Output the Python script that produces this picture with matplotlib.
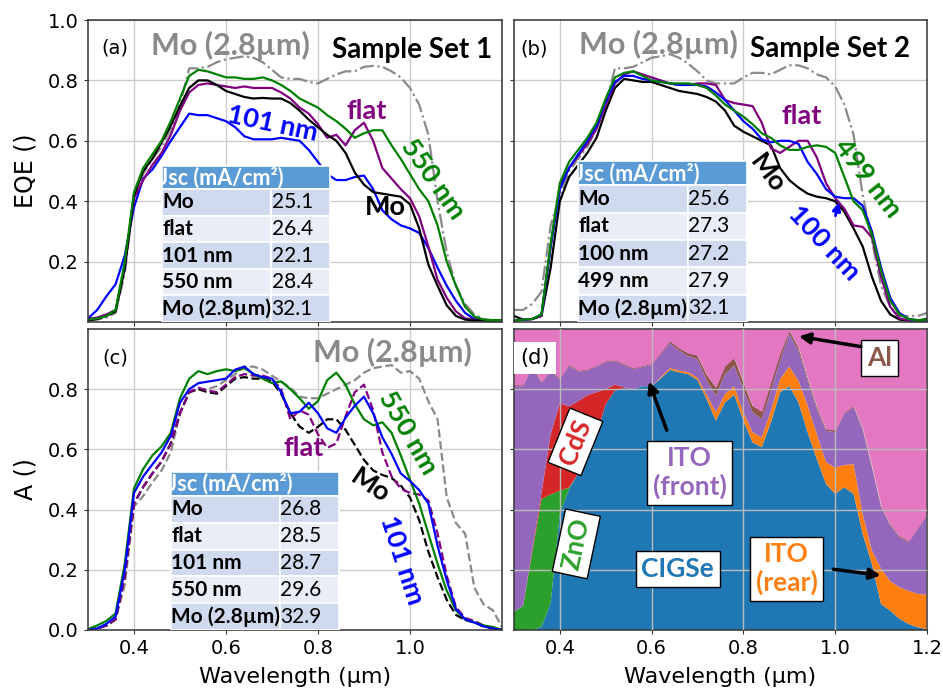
import numpy as np
import matplotlib
matplotlib.use("Agg")
import matplotlib.pyplot as plt
from matplotlib.patches import Rectangle

# ---------------- data ----------------
wl = [0.30, 0.32, 0.34, 0.36, 0.38, 0.40, 0.42, 0.44, 0.46, 0.48, 0.50, 0.52, 0.54, 0.56,
      0.58, 0.60, 0.62, 0.64, 0.66, 0.68, 0.70, 0.72, 0.74, 0.76, 0.78, 0.80, 0.82, 0.84,
      0.86, 0.88, 0.90, 0.92, 0.94, 0.96, 0.98, 1.00, 1.02, 1.04, 1.06, 1.08, 1.10, 1.12,
      1.14, 1.16, 1.18, 1.20]

# Panel (a): EQE, sample set 1
eqe1_mo = [0.005, 0.01, 0.02, 0.035, 0.18, 0.42, 0.50, 0.54, 0.595, 0.65, 0.715, 0.775, 0.80, 0.80,
           0.785, 0.765, 0.755, 0.745, 0.74, 0.742, 0.74, 0.74, 0.725, 0.70, 0.67, 0.645, 0.62, 0.60,
           0.56, 0.495, 0.455, 0.43, 0.425, 0.42, 0.415, 0.39, 0.31, 0.19, 0.12, 0.055, 0.02, 0.008,
           0.005, 0.005, 0.006, 0.006]
eqe1_flat = [0.01, 0.015, 0.025, 0.04, 0.18, 0.41, 0.47, 0.52, 0.56, 0.62, 0.70, 0.76, 0.785, 0.79,
             0.785, 0.78, 0.775, 0.78, 0.775, 0.775, 0.775, 0.76, 0.74, 0.71, 0.69, 0.655, 0.61, 0.62,
             0.585, 0.635, 0.66, 0.60, 0.51, 0.475, 0.44, 0.41, 0.35, 0.25, 0.14, 0.08, 0.035, 0.012,
             0.008, 0.006, 0.006, 0.006]
eqe1_101 = [0.012, 0.04, 0.085, 0.125, 0.22, 0.38, 0.475, 0.505, 0.55, 0.60, 0.645, 0.69, 0.685, 0.685,
            0.675, 0.665, 0.645, 0.615, 0.605, 0.605, 0.605, 0.61, 0.605, 0.60, 0.57, 0.53, 0.49, 0.47,
            0.47, 0.48, 0.485, 0.44, 0.37, 0.34, 0.32, 0.31, 0.295, 0.245, 0.18, 0.12, 0.07, 0.03,
            0.01, 0.006, 0.005, 0.005]
eqe1_550 = [0.008, 0.012, 0.02, 0.04, 0.20, 0.43, 0.51, 0.555, 0.60, 0.665, 0.74, 0.815, 0.835, 0.83,
            0.82, 0.81, 0.81, 0.805, 0.805, 0.81, 0.80, 0.785, 0.765, 0.74, 0.725, 0.71, 0.685, 0.665,
            0.64, 0.61, 0.625, 0.635, 0.635, 0.585, 0.54, 0.49, 0.44, 0.40, 0.32, 0.20, 0.12, 0.05,
            0.018, 0.008, 0.006, 0.006]
eqe1_thick = [0.005, 0.008, 0.015, 0.03, 0.16, 0.42, 0.49, 0.54, 0.58, 0.64, 0.72, 0.84, 0.84, 0.845,
              0.86, 0.87, 0.875, 0.88, 0.875, 0.86, 0.835, 0.81, 0.805, 0.805, 0.795, 0.79, 0.805, 0.82,
              0.83, 0.83, 0.845, 0.848, 0.845, 0.83, 0.81, 0.775, 0.72, 0.62, 0.40, 0.23, 0.12, 0.06,
              0.025, 0.01, 0.005, 0.005]

# Panel (b): EQE, sample set 2
eqe2_mo = [0.02, 0.008, 0.01, 0.02, 0.18, 0.40, 0.48, 0.52, 0.56, 0.61, 0.70, 0.775, 0.805, 0.80,
           0.795, 0.795, 0.785, 0.775, 0.765, 0.76, 0.755, 0.745, 0.73, 0.70, 0.65, 0.63, 0.615, 0.60,
           0.585, 0.51, 0.47, 0.445, 0.425, 0.415, 0.41, 0.40, 0.365, 0.31, 0.25, 0.15, 0.07, 0.025,
           0.008, 0.005, 0.005, 0.01]
eqe2_flat = [0.005, 0.008, 0.01, 0.02, 0.25, 0.45, 0.51, 0.55, 0.59, 0.64, 0.72, 0.79, 0.82, 0.83,
             0.82, 0.81, 0.80, 0.79, 0.785, 0.785, 0.79, 0.79, 0.785, 0.735, 0.725, 0.72, 0.715, 0.66,
             0.575, 0.56, 0.58, 0.60, 0.60, 0.545, 0.46, 0.41, 0.375, 0.32, 0.315, 0.28, 0.15, 0.05,
             0.012, 0.006, 0.005, 0.005]
eqe2_100 = [0.005, 0.008, 0.01, 0.025, 0.25, 0.44, 0.51, 0.555, 0.60, 0.65, 0.73, 0.795, 0.815, 0.815,
            0.805, 0.80, 0.795, 0.79, 0.785, 0.785, 0.785, 0.78, 0.76, 0.735, 0.70, 0.665, 0.64, 0.605,
            0.595, 0.60, 0.60, 0.59, 0.53, 0.49, 0.44, 0.415, 0.41, 0.41, 0.385, 0.30, 0.18, 0.08,
            0.03, 0.01, 0.006, 0.006]
eqe2_499 = [0.005, 0.008, 0.01, 0.025, 0.26, 0.46, 0.53, 0.57, 0.61, 0.66, 0.74, 0.81, 0.825, 0.83,
            0.815, 0.80, 0.795, 0.79, 0.79, 0.79, 0.785, 0.775, 0.75, 0.72, 0.70, 0.68, 0.655, 0.625,
            0.61, 0.585, 0.57, 0.57, 0.58, 0.585, 0.58, 0.56, 0.48, 0.40, 0.37, 0.29, 0.17, 0.07,
            0.025, 0.01, 0.006, 0.008]
eqe2_thick = [0.04, 0.04, 0.06, 0.10, 0.32, 0.42, 0.50, 0.54, 0.58, 0.64, 0.72, 0.84, 0.84, 0.845,
              0.86, 0.875, 0.88, 0.887, 0.875, 0.855, 0.83, 0.80, 0.79, 0.79, 0.79, 0.81, 0.825, 0.825,
              0.82, 0.835, 0.85, 0.85, 0.84, 0.82, 0.81, 0.78, 0.72, 0.62, 0.42, 0.27, 0.12, 0.05,
              0.02, 0.02, 0.02, 0.03]

# Panel (c): simulated absorption, sample set 1
abs_mo = [0.0, 0.005, 0.015, 0.035, 0.18, 0.42, 0.475, 0.52, 0.56, 0.62, 0.72, 0.79, 0.80, 0.79,
          0.785, 0.81, 0.835, 0.84, 0.835, 0.835, 0.826, 0.785, 0.72, 0.676, 0.655, 0.675, 0.70, 0.70,
          0.665, 0.615, 0.565, 0.53, 0.515, 0.505, 0.48, 0.44, 0.365, 0.26, 0.175, 0.10, 0.05, 0.033,
          0.025, 0.012, 0.005, 0.0]
abs_flat = [0.0, 0.005, 0.015, 0.035, 0.18, 0.42, 0.475, 0.52, 0.56, 0.62, 0.72, 0.79, 0.805, 0.795,
            0.79, 0.815, 0.84, 0.85, 0.845, 0.845, 0.835, 0.80, 0.70, 0.73, 0.715, 0.65, 0.605, 0.62,
            0.71, 0.79, 0.815, 0.73, 0.59, 0.51, 0.47, 0.455, 0.45, 0.43, 0.32, 0.18, 0.075, 0.04,
            0.03, 0.015, 0.005, 0.0]
abs_101 = [0.0, 0.005, 0.02, 0.045, 0.20, 0.455, 0.51, 0.55, 0.59, 0.645, 0.755, 0.80, 0.82, 0.825,
           0.83, 0.835, 0.865, 0.875, 0.85, 0.84, 0.835, 0.79, 0.72, 0.725, 0.755, 0.72, 0.67, 0.655,
           0.705, 0.745, 0.775, 0.72, 0.64, 0.585, 0.52, 0.495, 0.465, 0.42, 0.28, 0.165, 0.07, 0.035,
           0.025, 0.012, 0.005, 0.0]
abs_550 = [0.003, 0.015, 0.03, 0.055, 0.22, 0.47, 0.535, 0.58, 0.61, 0.655, 0.77, 0.835, 0.86, 0.85,
           0.86, 0.866, 0.86, 0.87, 0.85, 0.835, 0.82, 0.826, 0.80, 0.77, 0.735, 0.76, 0.83, 0.855,
           0.815, 0.75, 0.70, 0.68, 0.69, 0.655, 0.58, 0.50, 0.42, 0.32, 0.22, 0.13, 0.065, 0.035,
           0.025, 0.015, 0.01, 0.0]
abs_thick = [0.0, 0.005, 0.015, 0.035, 0.15, 0.41, 0.445, 0.49, 0.53, 0.59, 0.72, 0.79, 0.80, 0.80,
             0.81, 0.83, 0.85, 0.875, 0.875, 0.865, 0.845, 0.825, 0.805, 0.775, 0.77, 0.77, 0.785, 0.80,
             0.815, 0.83, 0.855, 0.87, 0.875, 0.88, 0.855, 0.86, 0.835, 0.76, 0.70, 0.44, 0.355, 0.32,
             0.14, 0.085, 0.066, 0.01]

# Panel (d): per-layer absorption (stacked), reflection fills the rest
lay_cigse = [0.0, 0.0, 0.0, 0.01, 0.09, 0.385, 0.468, 0.52, 0.58, 0.65, 0.75, 0.795, 0.804, 0.80,
             0.81, 0.81, 0.836, 0.864, 0.856, 0.85, 0.83, 0.767, 0.695, 0.756, 0.782, 0.695, 0.623, 0.607,
             0.69, 0.79, 0.81, 0.756, 0.657, 0.568, 0.485, 0.452, 0.474, 0.452, 0.319, 0.22, 0.086, 0.064,
             0.037, 0.02, 0.009, 0.003]
lay_ito_rear = [0.0, 0.0, 0.0, 0.0, 0.0, 0.0, 0.0, 0.0, 0.0, 0.0, 0.0, 0.0, 0.0, 0.0,
                0.0, 0.0, 0.004, 0.006, 0.006, 0.006, 0.008, 0.015, 0.028, 0.028, 0.028, 0.028, 0.034, 0.033,
                0.039, 0.044, 0.065, 0.072, 0.088, 0.083, 0.072, 0.088, 0.074, 0.099, 0.066, 0.044, 0.117, 0.098,
                0.105, 0.11, 0.111, 0.114]
lay_zno = [0.06, 0.08, 0.26, 0.425, 0.36, 0.078, 0.005, 0.0, 0.0, 0.0, 0.0, 0.0, 0.0, 0.0,
           0.0, 0.0, 0.0, 0.0, 0.0, 0.0, 0.0, 0.0, 0.0, 0.0, 0.0, 0.0, 0.0, 0.0,
           0.0, 0.0, 0.0, 0.0, 0.0, 0.0, 0.0, 0.0, 0.0, 0.0, 0.0, 0.0, 0.0, 0.0,
           0.0, 0.0, 0.0, 0.0]
lay_cds = [0.0, 0.0, 0.01, 0.02, 0.20, 0.29, 0.27, 0.24, 0.20, 0.14, 0.05, 0.02, 0.002, 0.0,
           0.0, 0.0, 0.0, 0.0, 0.0, 0.0, 0.0, 0.0, 0.0, 0.0, 0.0, 0.0, 0.0, 0.0,
           0.0, 0.0, 0.0, 0.0, 0.0, 0.0, 0.0, 0.0, 0.0, 0.0, 0.0, 0.0, 0.0, 0.0,
           0.0, 0.0, 0.0, 0.0]
lay_ito_front = [0.75, 0.73, 0.605, 0.365, 0.21, 0.079, 0.135, 0.098, 0.082, 0.085, 0.09, 0.078, 0.074, 0.066,
                 0.064, 0.07, 0.077, 0.082, 0.066, 0.054, 0.062, 0.048, 0.055, 0.066, 0.068, 0.077, 0.066, 0.06,
                 0.066, 0.061, 0.108, 0.10, 0.083, 0.083, 0.105, 0.117, 0.17, 0.189, 0.279, 0.276, 0.205, 0.185,
                 0.166, 0.161, 0.216, 0.263]
lay_al = [0.004, 0.004, 0.004, 0.004, 0.004, 0.004, 0.004, 0.004, 0.004, 0.004, 0.004, 0.004, 0.004, 0.004,
          0.004, 0.004, 0.006, 0.008, 0.008, 0.01, 0.012, 0.018, 0.028, 0.028, 0.026, 0.023, 0.022, 0.026,
          0.028, 0.025, 0.012, 0.011, 0.009, 0.008, 0.006, 0.007, 0.005, 0.005, 0.005, 0.004, 0.004, 0.004,
          0.004, 0.004, 0.004, 0.004]

jsc_names1 = ["Mo", "flat", "101 nm", "550 nm", "Mo (2.8\u00b5m)"]
jsc_eqe1 = ["25.1", "26.4", "22.1", "28.4", "32.1"]
jsc_names2 = ["Mo", "flat", "100 nm", "499 nm", "Mo (2.8\u00b5m)"]
jsc_eqe2 = ["25.6", "27.3", "27.2", "27.9", "32.1"]
jsc_abs1 = ["26.8", "28.5", "28.7", "29.6", "32.9"]

# ---------------- style ----------------
plt.rcParams['font.family'] = ['DejaVu Sans']
ANN = ['Lato', 'DejaVu Sans']
C_BLUE, C_GREEN, C_PURPLE, C_GRAY = '#0000ff', '#008000', '#800080', '#8a8a8a'

fig = plt.figure(figsize=(9.43, 6.9), dpi=100)
axA = fig.add_axes([0.0933, 0.5333, 0.439, 0.4377])
axB = fig.add_axes([0.545, 0.5333, 0.438, 0.4377])
axC = fig.add_axes([0.0933, 0.087, 0.439, 0.4362])
axD = fig.add_axes([0.545, 0.087, 0.438, 0.4362])

for ax in (axA, axB, axC, axD):
    ax.set_xlim(0.3, 1.2)
    ax.set_ylim(0, 1.0)
    ax.grid(True, color='#cccccc', lw=1.0)
    ax.set_axisbelow(True)
    for s in ax.spines.values():
        s.set_color('#333333')
        s.set_linewidth(1.1)
    ax.tick_params(labelsize=14, length=3, color='#333333')

axA.set_xticks([0.4, 0.6, 0.8, 1.0]); axA.set_xticklabels([])
axA.set_yticks([0.2, 0.4, 0.6, 0.8, 1.0])
axB.set_xticks([0.4, 0.6, 0.8, 1.0]); axB.set_xticklabels([])
axB.set_yticks([0.2, 0.4, 0.6, 0.8]); axB.set_yticklabels([])
axC.set_xticks([0.4, 0.6, 0.8, 1.0])
axC.set_yticks([0.0, 0.2, 0.4, 0.6, 0.8])
axD.set_xticks([0.4, 0.6, 0.8, 1.0, 1.2])
axD.set_yticks([0.2, 0.4, 0.6, 0.8]); axD.set_yticklabels([])

axA.set_ylabel('EQE ()', fontsize=17)
axC.set_ylabel('A ()', fontsize=17)
for ax in (axA, axC):
    ax.yaxis.set_label_coords(-0.152, 0.5)
    ax.yaxis.label.set_va('center')
for ax in (axC, axD):
    ax.set_xlabel('Wavelength (\u00b5m)', fontsize=16)
    ax.xaxis.set_label_coords(0.5, -0.155)
    ax.xaxis.label.set_va('center')

LW = 1.6
# ---- (a) ----
axA.plot(wl, eqe1_thick, color=C_GRAY, lw=LW, ls='-.')
axA.plot(wl, eqe1_101, color=C_BLUE, lw=LW)
axA.plot(wl, eqe1_flat, color=C_PURPLE, lw=LW)
axA.plot(wl, eqe1_mo, color='black', lw=LW)
axA.plot(wl, eqe1_550, color=C_GREEN, lw=LW)

# ---- (b) ----
axB.plot(wl, eqe2_thick, color=C_GRAY, lw=LW, ls='-.')
axB.plot(wl, eqe2_mo, color='black', lw=LW)
axB.plot(wl, eqe2_flat, color=C_PURPLE, lw=LW)
axB.plot(wl, eqe2_100, color=C_BLUE, lw=LW)
axB.plot(wl, eqe2_499, color=C_GREEN, lw=LW)

# ---- (c) ----
axC.plot(wl, abs_thick, color=C_GRAY, lw=LW, ls='--')
axC.plot(wl, abs_mo, color='black', lw=LW, ls='--')
axC.plot(wl, abs_flat, color=C_PURPLE, lw=LW, ls='--')
axC.plot(wl, abs_550, color=C_GREEN, lw=LW)
axC.plot(wl, abs_101, color=C_BLUE, lw=LW)

# ---- (d) ----
layers = [lay_cigse, lay_ito_rear, lay_zno, lay_cds, lay_ito_front, lay_al]
lcolors = ['tab:blue', 'tab:orange', 'tab:green', 'tab:red', 'tab:purple', 'tab:brown']
axD.stackplot(wl, *layers, colors=lcolors, zorder=0.5)
top = np.sum(np.array(layers), axis=0)
axD.fill_between(wl, top, 1.0, color='tab:pink', lw=0, zorder=0.5)
axD.grid(True, color='#bbbbbb', lw=1.0, zorder=0.8)
axD.set_axisbelow(False)
for ln in axD.get_xgridlines() + axD.get_ygridlines():
    ln.set_zorder(0.8)


def jsc_table(ax, x0, xs, x1, y1, yh, names, vals, fs=15, hfs=15.5):
    nrows = len(names)
    rh = yh / nrows
    ax.add_patch(Rectangle((x0, yh), x1 - x0, y1 - yh, facecolor='#5b9bd5',
                           edgecolor='white', lw=1.2, zorder=5))
    t = ax.text(x0 - 0.006, (yh + y1) / 2, 'Jsc (mA/cm\u00b2)', color='white', fontsize=hfs,
                fontweight='bold', family=ANN, ha='left', va='center', zorder=6)
    clip = Rectangle((x0, yh), x1 - x0, y1 - yh, transform=ax.transData)
    t.set_clip_path(clip)
    for i, (n, v) in enumerate(zip(names, vals)):
        yb = yh - (i + 1) * rh
        fc = '#cfdaee' if i % 2 == 0 else '#e9eef6'
        ax.add_patch(Rectangle((x0, yb), xs - x0, rh, facecolor=fc, edgecolor='white', lw=1.2, zorder=5))
        ax.add_patch(Rectangle((xs, yb), x1 - xs, rh, facecolor=fc, edgecolor='white', lw=1.2, zorder=5))
        ax.text(x0 + 0.001, yb + rh / 2, n, fontsize=fs, fontweight='bold', family=ANN,
                ha='left', va='center', zorder=6)
        ax.text(xs + 0.001, yb + rh / 2, v, fontsize=fs, family=ANN,
                ha='left', va='center', zorder=6)


jsc_table(axA, 0.461, 0.698, 0.826, 0.517, 0.44, jsc_names1, jsc_eqe1)
jsc_table(axB, 0.439, 0.679, 0.807, 0.533, 0.453, jsc_names2, jsc_eqe2)
jsc_table(axC, 0.480, 0.717, 0.846, 0.525, 0.445, jsc_names1, jsc_abs1)

BF = dict(family=ANN, fontweight='bold')
TS = 22   # Mo (2.8um)
SS = 20   # Sample Set
CL = 19.5 # curve labels
# annotations (a)
axA.text(0.359, 0.907, '(a)', fontsize=14, ha='center', va='center')
axA.text(0.609, 0.917, 'Mo (2.8\u00b5m)', fontsize=TS, color=C_GRAY, ha='center', va='center', **BF)
axA.text(1.004, 0.90, 'Sample Set 1', fontsize=SS, color='black', ha='center', va='center', **BF)
axA.text(0.702, 0.655, '101 nm', fontsize=CL, color=C_BLUE, rotation=-12, ha='center', va='center', **BF)
axA.text(0.906, 0.70, 'flat', fontsize=CL, color=C_PURPLE, ha='center', va='center', **BF)
axA.text(1.05, 0.473, '550 nm', fontsize=CL, color=C_GREEN, rotation=-55, ha='center', va='center', **BF)
axA.text(0.946, 0.38, 'Mo', fontsize=CL, color='black', ha='center', va='center', **BF)

# annotations (b)
axB.text(0.345, 0.903, '(b)', fontsize=14, ha='center', va='center')
axB.text(0.614, 0.92, 'Mo (2.8\u00b5m)', fontsize=TS, color=C_GRAY, ha='center', va='center', **BF)
axB.text(0.988, 0.903, 'Sample Set 2', fontsize=SS, color='black', ha='center', va='center', **BF)
axB.text(0.928, 0.683, 'flat', fontsize=CL, color=C_PURPLE, ha='center', va='center', **BF)
axB.text(1.07, 0.477, '499 nm', fontsize=CL, color=C_GREEN, rotation=-52, ha='center', va='center', **BF)
axB.text(0.853, 0.493, 'Mo', fontsize=CL, color='black', rotation=-53, ha='center', va='center', **BF)
axB.text(0.975, 0.26, '100 nm', fontsize=CL, color=C_BLUE, rotation=-47, ha='center', va='center', **BF)
axB.annotate('', xy=(1.01, 0.405), xytext=(0.999, 0.343),
             arrowprops=dict(arrowstyle='-|>', color=C_BLUE, lw=2, mutation_scale=12))

# annotations (c)
axC.text(0.359, 0.904, '(c)', fontsize=14, ha='center', va='center')
axC.text(0.961, 0.923, 'Mo (2.8\u00b5m)', fontsize=TS, color=C_GRAY, ha='center', va='center', **BF)
axC.text(0.996, 0.654, '550 nm', fontsize=CL, color=C_GREEN, rotation=-60, ha='center', va='center', **BF)
axC.text(0.77, 0.605, 'flat', fontsize=CL, color=C_PURPLE, ha='center', va='center', **BF)
axC.text(0.913, 0.48, 'Mo', fontsize=CL, color='black', rotation=-34, ha='center', va='center', **BF)
axC.text(0.983, 0.233, '101 nm', fontsize=CL, color=C_BLUE, rotation=-72, ha='center', va='center', **BF)

# annotations (d)
box = dict(boxstyle='square,pad=0.22', facecolor='white', edgecolor='black', lw=1)
DL = 19
axD.text(0.345, 0.903, '(d)', fontsize=15, ha='center', va='center', zorder=6,
         bbox=dict(boxstyle='square,pad=0.3', facecolor='white', edgecolor='none'))
axD.text(0.434, 0.625, 'CdS', fontsize=DL, color='tab:red', rotation=68, ha='center', va='center',
         bbox=box, zorder=6, **BF)
axD.text(0.436, 0.286, 'ZnO', fontsize=DL, color='tab:green', rotation=78, ha='center', va='center',
         bbox=box, zorder=6, **BF)
axD.text(0.657, 0.203, 'CIGSe', fontsize=DL, color='tab:blue', ha='center', va='center',
         bbox=box, zorder=6, **BF)
axD.text(0.683, 0.523, 'ITO\n(front)', fontsize=DL, color='tab:purple', ha='center', va='center',
         linespacing=1.15, bbox=box, zorder=6, **BF)
axD.text(0.894, 0.204, 'ITO\n(rear)', fontsize=DL, color='tab:orange', ha='center', va='center',
         linespacing=1.15, bbox=box, zorder=6, **BF)
axD.text(1.097, 0.904, 'Al', fontsize=DL, color='tab:brown', ha='center', va='center',
         bbox=box, zorder=6, **BF)
arr = dict(arrowstyle='-|>', color='black', lw=2.5, mutation_scale=16)
axD.annotate('', xy=(0.592, 0.834), xytext=(0.635, 0.655), arrowprops=arr, zorder=7)
axD.annotate('', xy=(1.105, 0.18), xytext=(0.99, 0.203), arrowprops=arr, zorder=7)
axD.annotate('', xy=(0.915, 0.977), xytext=(1.062, 0.94), arrowprops=arr, zorder=7)

fig.savefig('out.png', dpi=100)
